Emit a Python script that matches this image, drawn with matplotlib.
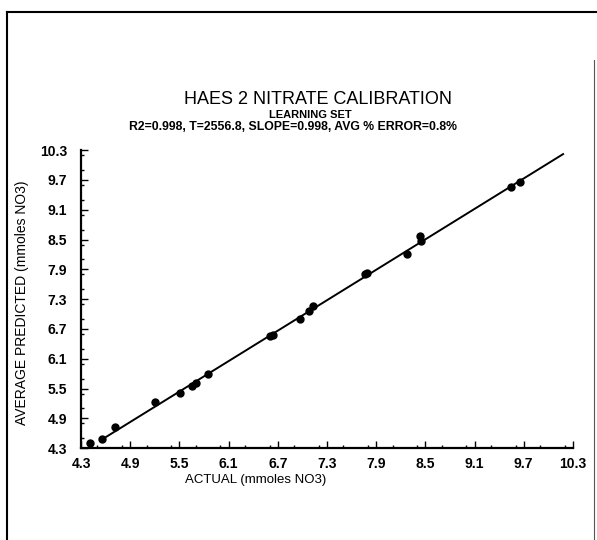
import numpy as np
import matplotlib.pyplot as plt
from matplotlib.lines import Line2D
from matplotlib.ticker import MultipleLocator, FixedLocator

plt.rcParams['font.family'] = ['Liberation Sans', 'DejaVu Sans']

# Actual vs average predicted nitrate (mmoles NO3)
actual = [4.41, 4.56, 4.71, 5.20, 5.51, 5.65, 5.70, 5.85, 6.60, 6.64,
          6.97, 7.08, 7.13, 7.76, 7.79, 8.28, 8.44, 8.45, 9.55, 9.65]
predicted = [4.41, 4.48, 4.73, 5.23, 5.42, 5.55, 5.61, 5.79, 6.56, 6.57,
             6.91, 7.06, 7.16, 7.80, 7.83, 8.20, 8.57, 8.47, 9.56, 9.66]

# calibration line end points
fit_x = [4.56, 10.18]
fit_y = [4.48, 10.22]

ticks = [4.3, 4.9, 5.5, 6.1, 6.7, 7.3, 7.9, 8.5, 9.1, 9.7, 10.3]
tick_labels = ['4.3', '4.9', '5.5', '6.1', '6.7', '7.3', '7.9', '8.5', '9.1', '9.7', '10.3']

fig = plt.figure(figsize=(5.97, 5.40), dpi=100)
ax = fig.add_axes([0.1357, 0.170, 0.824, 0.552])

ax.plot(fit_x, fit_y, color='black', linewidth=1.4)
ax.plot(actual, predicted, 'o', color='black', markersize=5)

ax.set_xlim(4.3, 10.3)
ax.set_ylim(4.3, 10.3)
for axis in (ax.xaxis, ax.yaxis):
    axis.set_major_locator(FixedLocator(ticks))
    axis.set_minor_locator(MultipleLocator(0.3))
ax.set_xticklabels(tick_labels)
ax.set_yticklabels(tick_labels)
ax.tick_params(which='major', direction='in', length=5, width=1, labelsize=10)
ax.tick_params(axis='y', which='major', pad=10)
ax.tick_params(axis='x', which='major', pad=6)
ax.tick_params(which='minor', direction='in', length=2.5, width=1)
for lab in ax.get_xticklabels() + ax.get_yticklabels():
    lab.set_fontweight('bold')

for side in ('top', 'right'):
    ax.spines[side].set_visible(False)
for side in ('left', 'bottom'):
    ax.spines[side].set_linewidth(1.6)

ax.text(0.355, -0.085, 'ACTUAL (mmoles NO3)', transform=ax.transAxes,
        ha='center', va='top', fontsize=9.5)
fig.text(0.037, 0.44, 'AVERAGE PREDICTED (mmoles NO3)', rotation=90,
         ha='center', va='center', fontsize=10)

fig.text(0.533, 0.815, 'HAES 2 NITRATE CALIBRATION', ha='center', va='center', fontsize=13)
fig.text(0.52, 0.787, 'LEARNING SET', ha='center', va='center', fontsize=8, fontweight='bold')
fig.text(0.49, 0.765, 'R2=0.998, T=2556.8, SLOPE=0.998, AVG % ERROR=0.8%',
         ha='center', va='center', fontsize=8.8, fontweight='bold')

# scanned page frame
fig.add_artist(Line2D([7 / 597, 7 / 597], [0, 1 - 12 / 540], transform=fig.transFigure,
                      color='black', linewidth=1.5))
fig.add_artist(Line2D([7 / 597, 1], [1 - 12 / 540, 1 - 12 / 540], transform=fig.transFigure,
                      color='black', linewidth=1.5))
fig.add_artist(Line2D([594 / 597, 594 / 597], [0, 1 - 60 / 540], transform=fig.transFigure,
                      color='#555555', linewidth=0.8))

fig.savefig('out.png', dpi=100)
